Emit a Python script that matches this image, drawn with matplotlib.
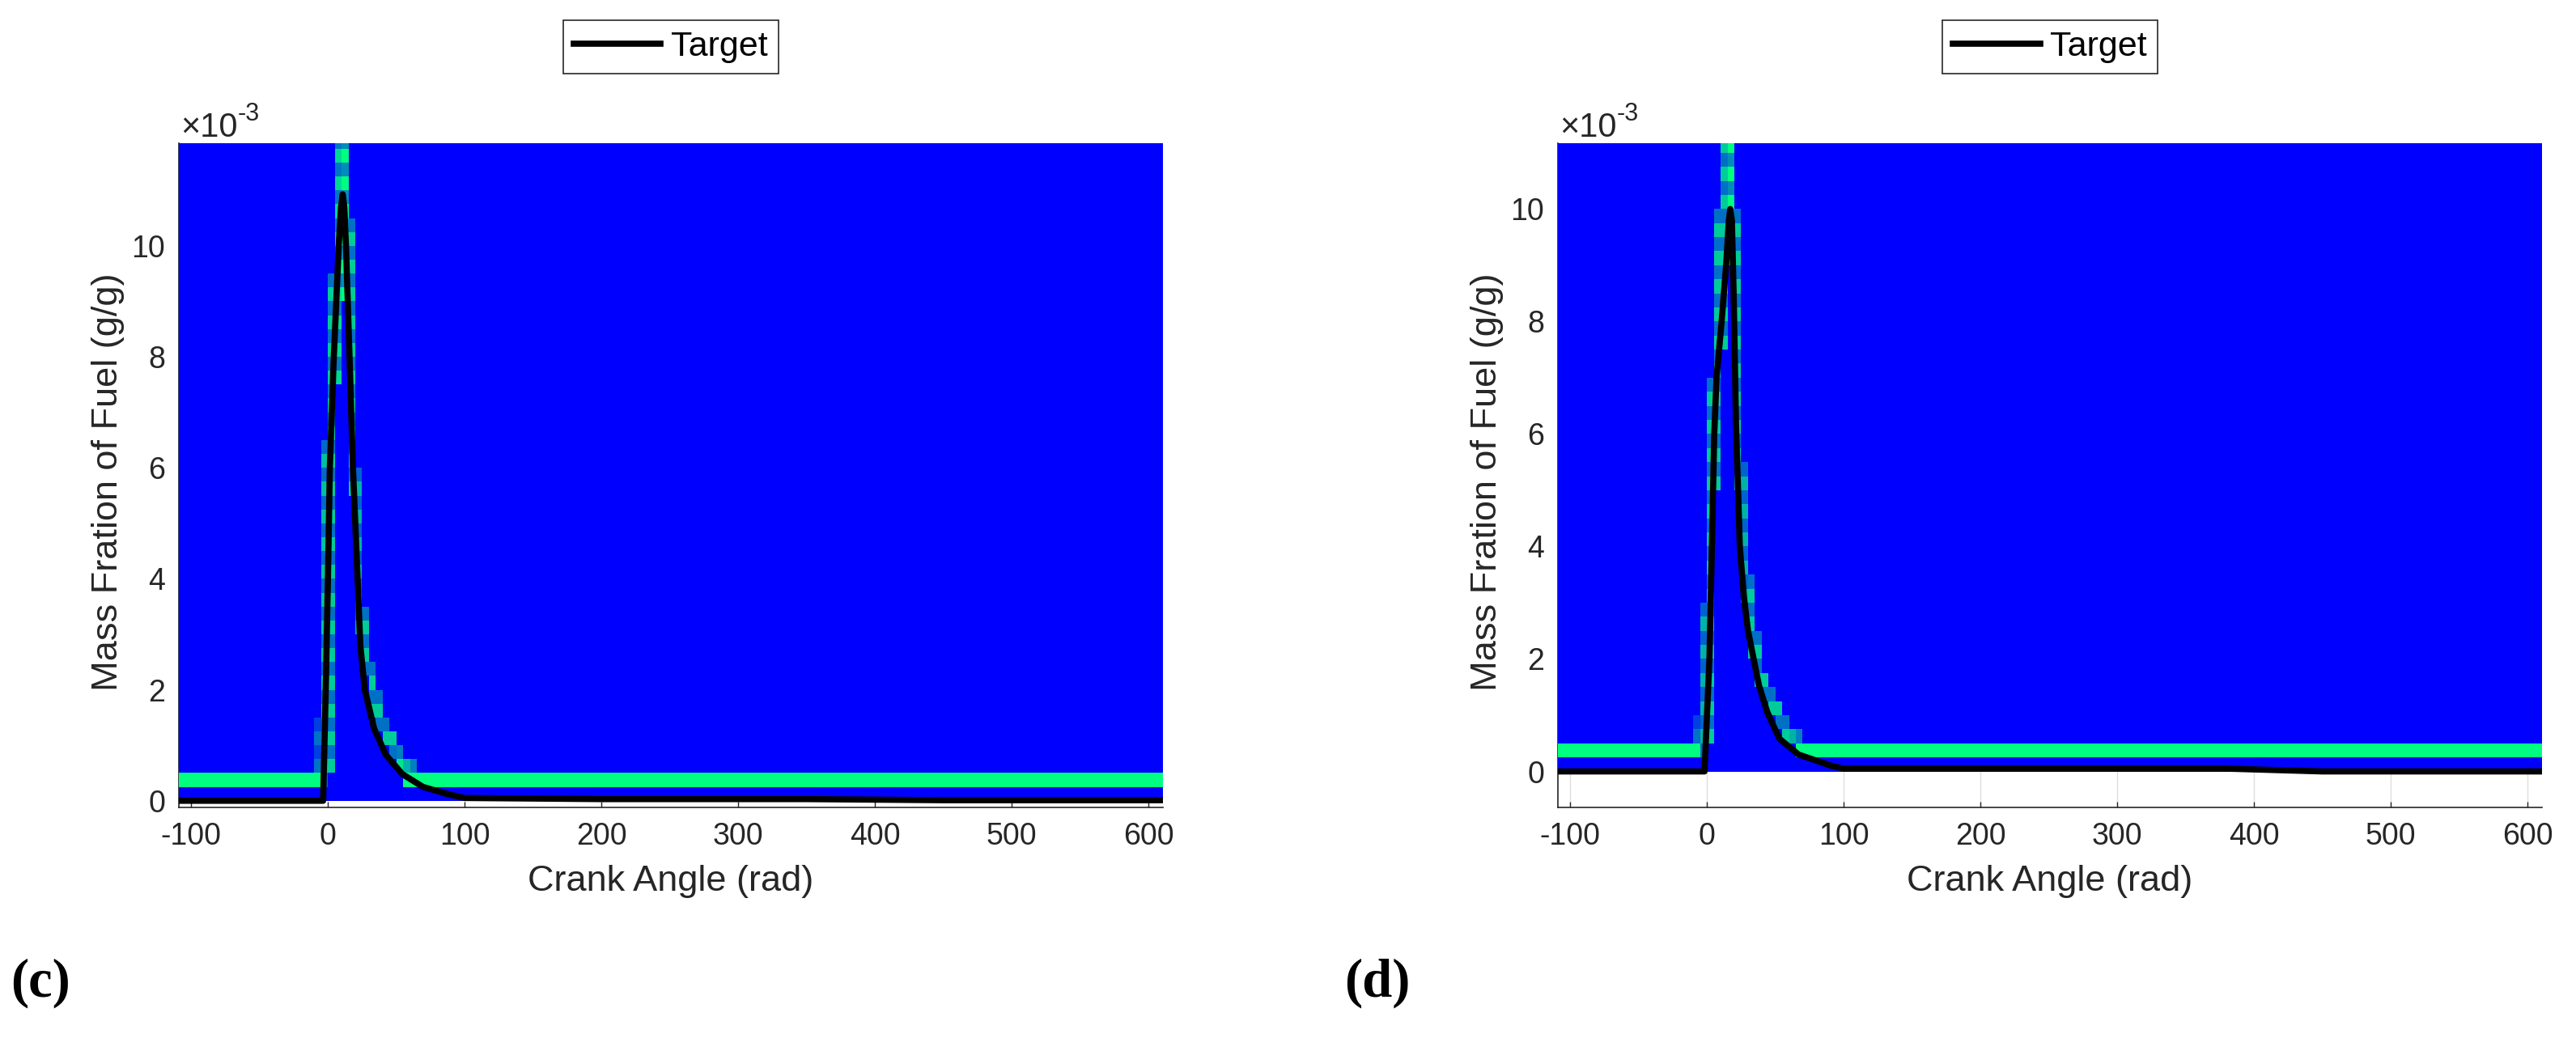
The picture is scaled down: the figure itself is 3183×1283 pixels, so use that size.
import numpy as np
import matplotlib.pyplot as plt

plt.rcParams['font.family'] = ['Liberation Sans', 'DejaVu Sans']
plt.rcParams['axes.unicode_minus'] = False

# target curves (y in 1e-3 g/g)
crank_c = [-110, -3.5, -1.6, 0, 1.4, 4.3, 7.9, 9.6, 10.8, 12.0, 13.2, 15.8, 18.3, 21.7,
           23.7, 27.0, 33.8, 42.3, 54.4, 69.5, 87.6, 100, 200, 350, 450, 610]
fuel_c = [0, 0, 2.0, 4.0, 6.0, 8.0, 10.0, 10.7, 10.93, 10.7, 10.0, 8.0, 6.0, 4.0,
          2.8, 2.0, 1.3, 0.83, 0.48, 0.25, 0.12, 0.05, 0.03, 0.03, 0.01, 0.01]

crank_d = [-110, -1.8, 1.8, 3.6, 5.3, 7.0, 10.7, 14.0, 16.0, 17.0, 18.2, 19.5, 21.2, 24.0,
           27.0, 30.0, 38.0, 44.0, 53.0, 67.0, 91.0, 100, 380, 450, 610]
fuel_d = [0, 0, 2.0, 4.0, 6.0, 7.0, 8.0, 9.0, 9.8, 10.0, 9.8, 8.5, 6.2, 4.0,
          3.1, 2.5, 1.53, 1.06, 0.58, 0.3, 0.1, 0.05, 0.05, 0.0, 0.0]

# density map: flat band of high density, and the peak track per column
band = (0.25, 0.5)
gap_c = (-5, 55)
gap_d = (-5, 65)

trk_x_c = [-10, -5, 0, 5, 10, 15, 20, 25, 30, 35, 40, 45, 50, 55, 60]
trk_lo_c = [0.5, 0.25, 0.5, 7.5, 9.0, 5.5, 3.0, 2.2, 1.6, 1.3, 1.0, 0.75, 0.5, 0.5, 0.5]
trk_hi_c = [1.5, 6.5, 9.5, 12.0, 12.0, 10.6, 6.0, 3.5, 2.6, 2.0, 1.6, 1.3, 1.1, 0.85, 0.75]
trk_v_c = [0.45, 0.75, 0.8, 0.85, 1.0, 0.8, 0.7, 0.8, 0.8, 0.8, 0.8, 0.8, 0.9, 0.7, 0.5]

trk_x_d = [-10, -5, 0, 5, 10, 15, 20, 25, 30, 35, 40, 45, 50, 55, 60, 65]
trk_lo_d = [0.5, 0.25, 0.5, 5.0, 7.5, 9.0, 5.0, 3.0, 2.0, 1.5, 1.2, 0.9, 0.75, 0.5, 0.5, 0.5]
trk_hi_d = [1.0, 3.0, 7.0, 10.0, 11.5, 11.5, 10.0, 5.5, 3.5, 2.5, 1.8, 1.5, 1.25, 1.0, 0.85, 0.75]
trk_v_d = [0.45, 0.7, 0.8, 0.8, 0.8, 1.0, 0.8, 0.7, 0.8, 0.8, 0.8, 0.8, 0.8, 0.8, 0.7, 0.5]

x_edges = np.arange(-110, 616, 5)
y_edges = np.arange(0, 12.01, 0.25)


def density(gap, cols, lo, hi, val):
    xc = (x_edges[:-1] + x_edges[1:]) / 2
    yc = (y_edges[:-1] + y_edges[1:]) / 2
    z = np.zeros((len(yc), len(xc)))
    in_band = (yc > band[0]) & (yc < band[1])
    out_gap = (xc < gap[0]) | (xc > gap[1])
    z[np.ix_(in_band, out_gap)] = 1.0
    for x0, a, b, v in zip(cols, lo, hi, val):
        j = np.argmin(np.abs(x_edges[:-1] - x0))
        rows = np.where((yc > a) & (yc < b))[0]
        z[rows, j] = v * np.where(rows % 2 == 0, 1.0, 0.55)
    return z


fig = plt.figure(figsize=(31.83, 12.83), dpi=100)
ax_c = fig.add_axes([0.06943, 0.22214, 0.38203, 0.63991])
ax_d = fig.add_axes([0.60478, 0.22214, 0.38203, 0.63991])

panels = [
    (ax_c, crank_c, fuel_c, density(gap_c, trk_x_c, trk_lo_c, trk_hi_c, trk_v_c), (-0.12, 11.85)),
    (ax_d, crank_d, fuel_d, density(gap_d, trk_x_d, trk_lo_d, trk_hi_d, trk_v_d), (-0.64, 11.17)),
]

grey = '#262626'
for ax, cx, fy, z, ylim in panels:
    ax.set_axisbelow(True)
    ax.pcolormesh(x_edges, y_edges, z, cmap='winter', vmin=0, vmax=1, shading='flat', zorder=1)
    ax.plot(cx, fy, color='k', lw=5.5, label='Target', zorder=3, solid_joinstyle='round')
    ax.set_xlim(-109, 610.6)
    ax.set_ylim(*ylim)
    ax.set_xticks(range(-100, 601, 100))
    ax.set_yticks([0, 2, 4, 6, 8, 10])
    ax.tick_params(direction='in', length=5, width=1, colors=grey, labelsize=27)
    ax.tick_params(axis='x', pad=13)
    ax.tick_params(axis='y', pad=12)
    ax.grid(axis='x', color='#dedede', lw=1)
    ax.spines['top'].set_visible(False)
    ax.spines['right'].set_visible(False)
    ax.spines['left'].set_zorder(0.5)
    for s in ('left', 'bottom'):
        ax.spines[s].set_color(grey)
        ax.spines[s].set_linewidth(1.2)
    ax.set_xlabel('Crank Angle (rad)', fontsize=32.5, color=grey)
    ax.xaxis.set_label_coords(0.5, -0.087)
    ax.set_ylabel('Mass Fration of Fuel (g/g)', fontsize=32.5, color=grey)
    ax.yaxis.set_label_coords(-0.055, 0.49)
    t = ax.text(0.002, 1 + 8 / 821, '×10', fontsize=30, color=grey, va='baseline', ha='left',
                transform=ax.transAxes)
    ax.annotate('-3', xy=(1, 0.55), xycoords=t, fontsize=22, color=grey, va='bottom', ha='left')
    leg = ax.legend(loc='lower center', bbox_to_anchor=(0.5, 1.105), fontsize=31, frameon=True,
                    fancybox=False, edgecolor=grey, framealpha=1, handlelength=2.5,
                    handletextpad=0.3, borderpad=0.3, borderaxespad=0)
    leg.get_frame().set_linewidth(1.2)

fig.text(0.004, 0.053, '(c)', fontsize=48, fontweight='bold', family='Liberation Serif',
         va='center', ha='left')
fig.text(0.5218, 0.053, '(d)', fontsize=48, fontweight='bold', family='Liberation Serif',
         va='center', ha='left')

fig.savefig('out.png', dpi=100)
